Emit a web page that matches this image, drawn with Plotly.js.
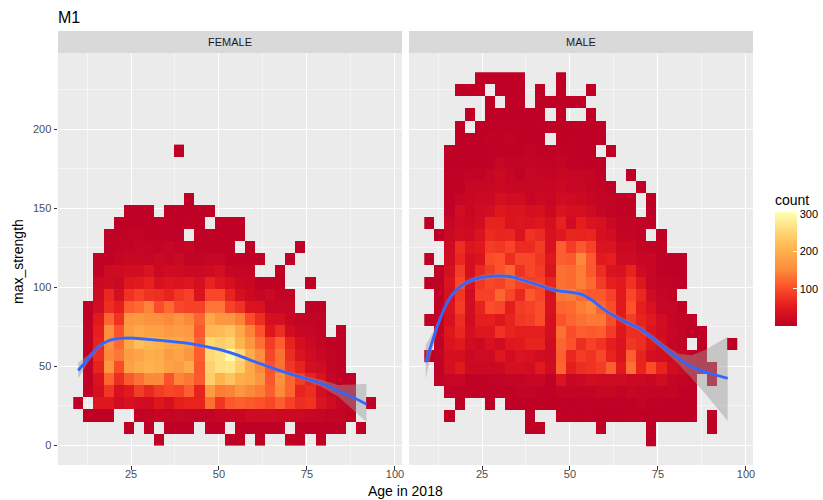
<!DOCTYPE html>
<html><head><meta charset="utf-8">
<script src="https://cdn.plot.ly/plotly-3.0.1.min.js"></script>
<style>html,body{margin:0;padding:0;background:#fff}</style>
</head><body><div id="chart" style="width:823px;height:500px"></div>
<script>
const panelLabels = ['FEMALE','MALE'];
// counts per bin, top row first; each row starts at the lowest age bin, 0 = no cell
const femaleCounts = [
[0,0,0,0,0,0,0,0,0,0,3],
[],[],[],
[0,0,0,0,0,0,0,0,0,0,0,3],
[0,0,0,0,0,3,3,3,0,3,3,3,3,3],
[0,0,0,0,3,3,3,4,4,4,3,4,3,0,3,3,3],
[0,0,0,4,5,6,9,5,5,4,4,0,4,4,3,3,3],
[0,0,0,4,6,9,12,10,8,14,8,13,5,5,5,6,0,3,0,0,0,0,3],
[0,0,4,5,10,15,15,13,18,12,18,8,8,13,12,5,5,4,3,0,0,3],
[0,0,6,22,22,28,28,38,18,25,24,20,20,22,30,12,10,10,0,0,3],
[0,0,18,24,18,45,50,58,35,42,38,42,32,60,42,32,20,14,5,5,5,0,0,3],
[0,0,22,65,30,75,90,75,72,60,80,88,38,95,95,60,30,20,12,18,8,8],
[0,5,28,72,55,115,125,145,100,125,95,90,90,135,135,90,75,40,35,12,12,12,0,3,3],
[0,4,50,120,75,165,170,160,160,150,165,150,120,190,165,165,145,100,70,30,32,14,8,8,6],
[0,4,55,155,105,175,190,180,180,170,175,170,110,210,215,225,190,145,105,45,70,25,15,12,6,0,3],
[0,4,60,155,125,190,220,210,205,190,190,180,120,250,240,250,205,165,130,85,115,60,30,18,10,5,5],
[0,4,70,150,135,175,185,200,195,175,185,165,115,255,265,300,255,195,155,95,130,70,40,25,14,8,5],
[0,4,60,165,100,180,195,205,200,180,175,195,110,245,265,270,240,190,150,105,130,80,60,30,25,8,5],
[0,4,40,120,70,110,130,150,150,105,145,135,110,240,205,225,200,190,165,110,160,120,85,60,40,12,5,3],
[0,4,30,80,35,50,85,65,85,95,90,115,60,175,140,145,165,150,140,115,150,120,60,70,32,15,6,3],
[3,0,45,45,25,35,28,25,45,30,55,60,60,130,80,110,115,110,105,95,115,90,70,75,40,25,10,6,0,3],
[0,3,3,3,0,0,6,8,10,10,12,8,8,8,15,14,14,22,22,22,20,20,18,14,12,8,8,5],
[0,0,0,0,0,3,0,3,0,3,3,3,0,3,3,0,3,3,3,3,3,0,3,3,3,3,3,0,3],
[0,0,0,0,0,0,0,0,3,0,0,0,0,0,0,3,3,0,3,0,0,3,3,0,3]
];
const maleCounts = [
[0,0,0,0,0,3,3,3,3,3,0,0,0,3],
[0,0,0,3,3,3,0,3,3,3,0,3,0,3,0,0,3],
[0,0,0,0,0,0,3,0,3,3,0,3,3,3,3,3],
[0,0,0,0,3,0,3,3,3,3,3,3,0,3,0,0,3],
[0,0,0,3,0,3,3,4,4,4,3,4,4,3,3,3,3,3],
[0,0,0,3,3,3,7,7,8,4,3,3,0,3,5,3,3,3],
[0,0,3,3,3,3,4,4,5,5,8,4,4,6,6,3,3,0,3],
[0,0,3,3,3,3,4,12,8,8,10,8,6,10,4,4,3,3],
[0,0,4,7,8,6,12,20,12,5,12,12,10,16,13,13,10,3,0,0,3],
[0,0,4,5,14,14,16,20,16,16,12,16,14,20,14,14,10,6,3,0,0,3],
[0,0,4,12,16,18,18,32,25,25,13,18,14,25,22,20,16,10,8,6,5,0,3],
[0,0,4,26,16,22,28,45,40,40,32,34,20,38,32,32,24,12,8,4,6,0,3],
[3,0,12,22,20,28,60,58,40,42,38,45,32,58,25,55,38,36,18,8,8,6,5],
[0,3,18,28,22,38,68,62,65,38,75,68,35,48,62,60,62,34,28,10,10,6,0,3],
[0,0,22,70,42,50,85,80,92,68,68,85,35,115,85,110,90,38,38,20,20,8,6,5],
[3,0,25,65,30,40,100,105,70,95,95,80,45,115,110,150,110,50,55,22,22,15,14,4,3,3],
[0,4,30,85,30,65,85,105,120,75,95,85,40,130,125,140,110,70,40,35,60,22,14,4,3,3],
[3,5,40,95,35,80,95,90,110,90,85,90,60,130,125,140,125,85,55,50,75,45,12,8,6,4],
[0,4,35,80,25,90,90,120,95,65,110,95,35,135,140,125,110,110,90,50,95,65,25,12,8],
[0,4,40,85,28,60,100,95,55,85,90,100,35,120,125,140,150,120,100,50,105,55,35,12,12,5],
[4,8,35,70,25,55,55,45,60,80,85,100,30,105,120,130,135,135,100,55,85,60,50,28,12,8,5],
[0,5,45,65,32,45,45,75,60,55,55,55,30,130,100,115,110,115,85,45,70,70,40,25,14,8,3,3],
[0,5,40,50,25,20,35,25,45,50,60,60,25,120,105,70,90,75,55,40,80,70,45,30,12,8,0,3,0,0,3],
[3,6,30,30,18,25,22,45,28,40,35,28,22,115,65,85,75,95,60,40,115,60,30,28,22,14,6,3],
[0,4,30,50,20,20,18,20,32,30,28,50,25,120,55,70,75,85,115,50,130,60,100,60,28,20,12,6,3],
[0,6,12,14,5,5,6,8,12,10,14,14,5,40,14,18,28,22,22,22,20,20,16,25,12,8,5,0,3],
[0,0,4,6,6,4,4,4,5,8,8,5,5,10,10,8,8,16,15,8,14,10,10,8,10,4,4],
[0,0,0,3,0,0,3,0,3,3,3,3,3,4,3,4,4,5,4,4,4,8,5,4,3,3,3],
[0,0,3,0,0,0,0,0,0,0,3,0,0,3,4,3,4,3,3,3,4,3,3,3,3,3,3,0,3],
[0,0,0,0,0,0,0,0,0,0,3,3,0,0,0,0,0,3,0,0,0,0,3,0,0,0,0,0,3],
[0,0,0,0,0,0,0,0,0,0,0,0,0,0,0,0,0,0,0,0,0,0,3]
];
const femaleAge = [10,12.9,15.7,18.6,21.4,25.2,29.9,35.6,41.3,46,50.8,55.5,60.2,65,69.7,74.4,79.2,83.9,88.6,91.9];
const femaleFit = [47.4,55,62.4,66.2,67.7,67.9,67.1,66,64.5,62.6,60.3,57,52.9,49.1,45.6,42.4,39.2,34.4,29.9,26.1];
const femaleLow = [42.4,52.8,60.9,65,66.5,66.8,66,65,63.5,61.6,59.3,56,51.9,48,44.4,41,37,30.8,21.3,15];
const femaleHigh = [52.5,57.2,63.9,67.4,68.9,69,68.2,67,65.5,63.6,61.3,58,53.9,50.2,46.8,43.8,41.4,38.2,38.6,39];
const maleAge = [9,10.7,12.6,14.5,16.4,18.3,20.2,22.1,24.9,29.6,33.4,37.2,41,45.7,50.5,53.3,56.2,59.9,64.7,69.4,73.2,77,80.8,84.6,88.4,94.8];
const maleFit = [52.5,64.5,77.2,87.7,95.1,99.4,102.5,104.6,106.3,107.3,106.7,104.2,101.5,98.3,96.8,95.6,92,85.6,79.3,74.4,68.4,61.4,55.1,49.7,46.6,42.4];
const maleLow = [42.4,59,74.7,86,93.6,98,101,103.1,104.8,105.8,105.2,102.7,100,96.8,95.3,94.1,90.5,84.1,77.8,72.9,66.6,59.2,51.5,42.4,32.9,15.4];
const maleHigh = [63.5,70,79.7,89.4,96.6,100.8,104,106.1,107.8,108.8,108.2,105.7,103,99.8,98.3,97.1,93.5,87.1,80.8,75.9,70.2,63.6,58,57,60.3,68.7];
const fillStops = ['#BD0026','#E31A1C','#FC4E2A','#FD8D3C','#FEB24C','#FED976','#FFFFB2'];
const axisTicks = [25,50,75,100];
const strengthTicks = [0,50,100,150,200];

const cells = rows => rows.slice().reverse().map(r => {
  const out = [];
  for (let i = 0; i < 31; i++) out.push(r[i] ? r[i] : null);
  return out;
});
const heat = (rows, xa, ya) => ({type:'heatmap', z:cells(rows), x0:10.03, dx:2.87, y0:3.4, dy:7.63,
  xaxis:xa, yaxis:ya, coloraxis:'coloraxis', hoverongaps:false, xgap:0, ygap:0});
const band = (x, lo, hi, xa, ya) => ({type:'scatter', mode:'lines', x:x.concat(x.slice().reverse()),
  y:hi.concat(lo.slice().reverse()), fill:'toself', fillcolor:'rgba(153,153,153,0.45)',
  line:{width:0}, xaxis:xa, yaxis:ya, showlegend:false, hoverinfo:'skip'});
const fit = (x, y, xa, ya) => ({type:'scatter', mode:'lines', x, y,
  line:{color:'#3366FF', width:2.8, shape:'spline'}, xaxis:xa, yaxis:ya, showlegend:false});

const W = 823, H = 500, L = 58, R = 753, T = 53, B = 465;
const pw = R - L, ph = B - T;
const xax = (domain, anchor) => ({domain, anchor, range:[4.26,102], tickvals:axisTicks, ticks:'outside', ticklen:3.5,
  tickwidth:1, tickcolor:'#333333', showgrid:true, gridcolor:'#FFFFFF', gridwidth:1, zeroline:false, showline:false,
  tickfont:{size:11, color:'#4D4D4D'}, automargin:false, ticklabelstandoff:-5,
  minor:{dtick:12.5, tick0:0, showgrid:true, gridcolor:'#FFFFFF', gridwidth:0.5, ticks:''}});
const yax = (anchor, labels) => ({domain:[0,1], anchor, range:[-12.4,248.3], tickvals:strengthTicks,
  ticks:labels?'outside':'', ticklen:3.5, tickwidth:1, tickcolor:'#333333', showticklabels:labels, showgrid:true,
  gridcolor:'#FFFFFF', gridwidth:1, zeroline:false, showline:false, tickfont:{size:11, color:'#4D4D4D'},
  automargin:false, minor:{dtick:25, tick0:0, showgrid:true, gridcolor:'#FFFFFF', gridwidth:0.5, ticks:''}});

const leftDom = [0, 344/pw], rightDom = [351/pw, 1];
const strip = d => ({type:'rect', xref:'paper', yref:'paper', x0:d[0], x1:d[1], y0:1, y1:1+22/ph,
  fillcolor:'#D9D9D9', line:{width:0}, layer:'below'});
const stripText = (d, t) => ({xref:'paper', yref:'paper', x:(d[0]+d[1])/2, y:1+11/ph, text:t, showarrow:false,
  font:{size:11, color:'#1A1A1A'}, xanchor:'center', yanchor:'middle'});

const layout = {
  width:W, height:H, paper_bgcolor:'#FFFFFF', plot_bgcolor:'#EBEBEB', showlegend:false,
  font:{family:'"Liberation Sans", Arial, sans-serif', color:'#000000'},
  margin:{l:L, r:W-R, t:T, b:H-B, pad:0, autoexpand:false},
  title:{text:'M1', font:{size:16, color:'#000000'}, x:L/W, xanchor:'left', y:1-17/H, yanchor:'middle'},
  xaxis:xax(leftDom,'y'), yaxis:yax('x',true), xaxis2:xax(rightDom,'y2'), yaxis2:yax('x2',false),
  coloraxis:{cmin:1, cmax:305, colorscale:fillStops.map((c,i)=>[i/6,c]),
    colorbar:{thickness:22, thicknessmode:'pixels', len:135, lenmode:'pixels', x:(775-L)/pw, xanchor:'left', xpad:0,
      y:(B-191)/ph, yanchor:'top', ypad:0, outlinewidth:0, tickvals:[100,200,300], ticks:'inside', ticklen:4, tickwidth:1,
      tickcolor:'#FFFFFF', tickfont:{size:11, color:'#000000'},
      title:{text:'count', side:'top', font:{size:14, color:'#000000'}}}},
  shapes:[strip(leftDom), strip(rightDom)],
  annotations:[stripText(leftDom,panelLabels[0]), stripText(rightDom,panelLabels[1]),
    {xref:'paper', yref:'paper', x:0.5, y:-(491-B)/ph, text:'Age in 2018', showarrow:false, xanchor:'center', yanchor:'middle', font:{size:14}},
    {xref:'paper', yref:'paper', x:-(L-18)/pw, y:(B-262)/ph, text:'max_strength', textangle:-90, showarrow:false, xanchor:'center', yanchor:'middle', font:{size:14}}]
};
Plotly.newPlot('chart', [
  heat(femaleCounts,'x','y'), heat(maleCounts,'x2','y2'),
  band(femaleAge,femaleLow,femaleHigh,'x','y'), band(maleAge,maleLow,maleHigh,'x2','y2'),
  fit(femaleAge,femaleFit,'x','y'), fit(maleAge,maleFit,'x2','y2')
], layout, {displayModeBar:false, staticPlot:true});
</script></body></html>
